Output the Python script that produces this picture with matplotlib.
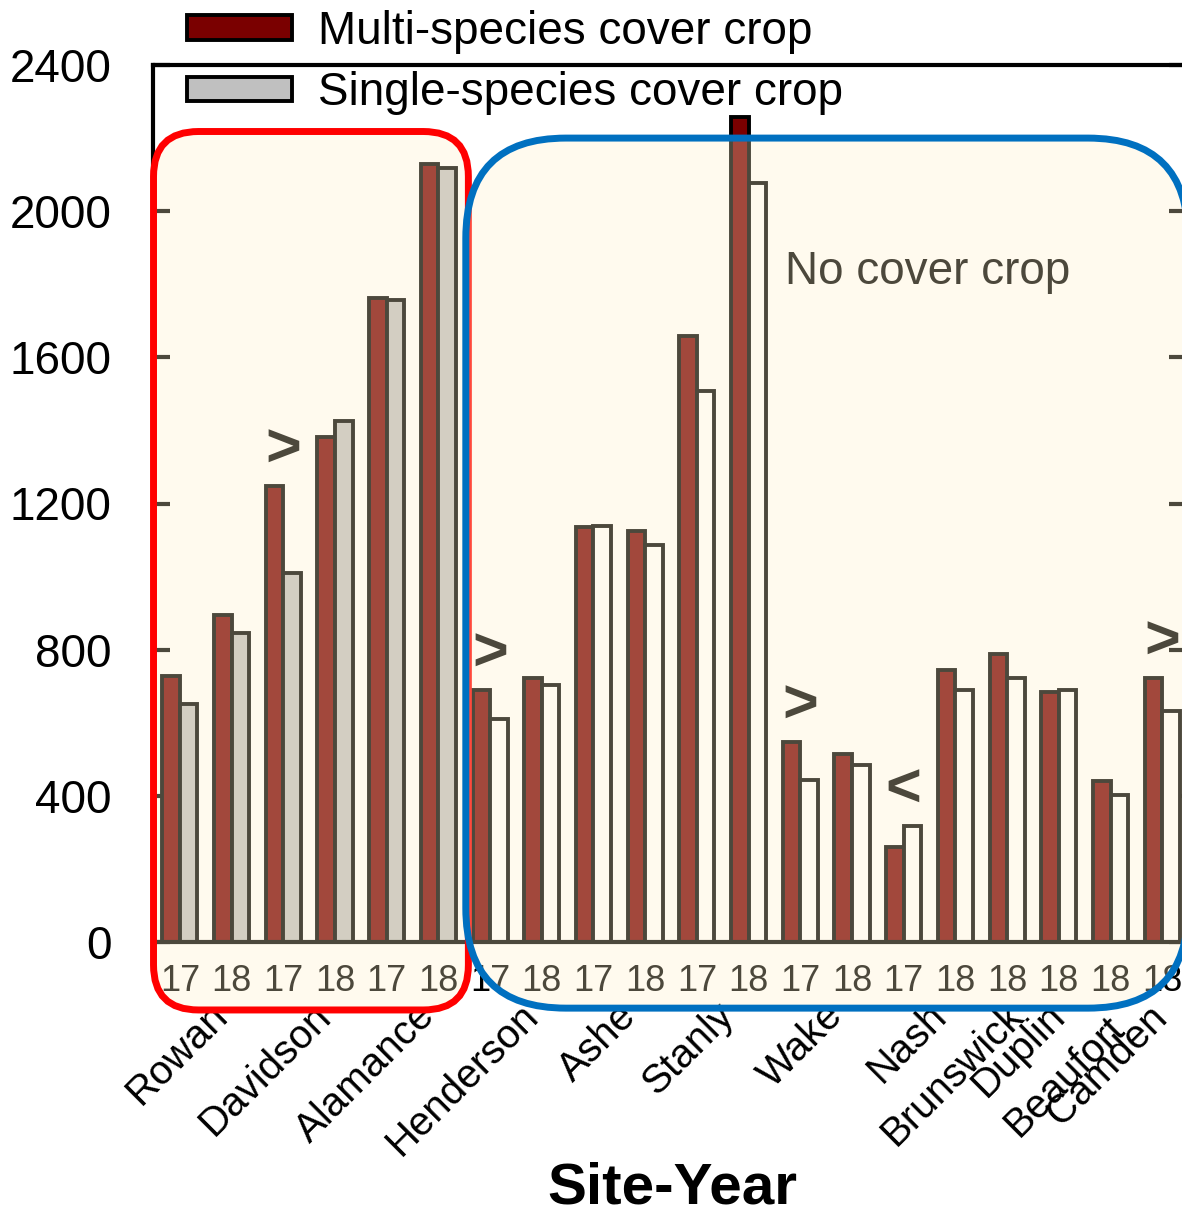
import matplotlib
matplotlib.use("Agg")
import matplotlib.pyplot as plt
import numpy as np
from matplotlib.patches import FancyBboxPatch, Patch
from matplotlib.transforms import IdentityTransform, blended_transform_factory

plt.rcParams["font.family"] = ["Liberation Sans", "DejaVu Sans"]

# Sites (in plotting order) and how many site-years each one has
sites = ["Rowan", "Davidson", "Alamance", "Henderson", "Ashe", "Stanly",
         "Wake", "Nash", "Brunswick", "Duplin", "Beaufort", "Camden"]
site_years = [2, 2, 2, 2, 2, 2, 2, 2, 1, 1, 1, 1]
years = ["17", "18", "17", "18", "17", "18", "17", "18", "17", "18",
         "17", "18", "17", "18", "17", "18", "18", "18", "18", "18"]

multi_species = [728, 895, 1248, 1382, 1763, 2129, 690, 723, 1136, 1125,
                 1659, 2258, 547, 515, 260, 744, 788, 684, 441, 723]
single_species = [651, 846, 1010, 1426, 1757, 2118, 610, 703, 1139, 1087,
                  1508, 2077, 443, 484, 317, 690, 723, 690, 402, 632]

# first site-years had a cover crop comparison, the rest had none
n_cover = 6

# significant differences (site-year index, sign)
sig_idx = [2, 6, 12, 14, 19]
sig_sign = [">", ">", ">", "<", ">"]

# layout of rotated site names (data x, axes y)
site_label_x = [0.55, 2.55, 4.55, 6.55, 8.45, 10.35, 12.45, 14.45, 15.95,
                16.75, 17.9, 18.72]
site_label_y = [-0.062] * 10 + [-0.076, -0.064]

W, H = 1182, 1216
fig = plt.figure(figsize=(W / 100, H / 100), dpi=100)
ax = fig.add_axes([153 / W, 1 - 942 / H, (1186 - 153) / W, 877 / H])

x = np.arange(len(years))
bw = 0.34
single_fill = ["#c0c0c0" if i < n_cover else "white" for i in x]
ax.bar(x - bw / 2, multi_species, bw, color="#7a0000", edgecolor="black",
       linewidth=2.8, zorder=2)
ax.bar(x + bw / 2, single_species, bw, color=single_fill, edgecolor="black",
       linewidth=2.8, zorder=2)

ax.set_xlim(-0.52, 19.46)
ax.set_ylim(0, 2400)
ax.set_yticks(range(0, 2401, 400))
ax.set_xticks(x, years)
ax.tick_params(axis="y", direction="in", length=12, width=3, right=True,
               labelsize=33, pad=30)
ax.tick_params(axis="x", length=0, labelsize=26, pad=16)
for sp in ax.spines.values():
    sp.set_linewidth(3)
    sp.set_color("black")

# significance signs above the bars
for i, s in zip(sig_idx, sig_sign):
    top = max(multi_species[i], single_species[i])
    ax.text(i, top + 95, s, ha="center", va="center", fontsize=44,
            weight="bold", zorder=3)

ax.text(11.7, 1834, "No cover crop", ha="left", va="center", fontsize=33)

lab_tr = blended_transform_factory(ax.transData, ax.transAxes)
for name, lx, ly in zip(sites, site_label_x, site_label_y):
    ax.text(lx, ly, name, transform=lab_tr, rotation=45, ha="right",
            va="top", rotation_mode="anchor", fontsize=29, clip_on=False)

fig.text(672 / W, 1 - 1188 / H, "Site-Year", ha="center", va="center",
         fontsize=42, weight="bold")

handles = [Patch(facecolor="#7a0000", edgecolor="black", linewidth=2.8),
           Patch(facecolor="#c0c0c0", edgecolor="black", linewidth=2.8)]
fig.legend(handles, ["Multi-species cover crop", "Single-species cover crop"],
           loc="upper left", bbox_to_anchor=(187 / W, 1 - 10 / H),
           frameon=False, fontsize=33, handlelength=2.29, handleheight=0.44,
           handletextpad=0.57, labelspacing=0.38, borderpad=0, borderaxespad=0)


# translucent rounded boxes grouping the site-years
def group_box(x0, x1, y0, y1, radius, color):
    (px0, py0) = ax.transData.transform((x0, y0))
    (px1, py1) = ax.transData.transform((x1, y1))
    box = FancyBboxPatch((px0, py0), px1 - px0, py1 - py0,
                         boxstyle=f"round,pad=0,rounding_size={radius}",
                         transform=IdentityTransform(),
                         facecolor=(1.0, 0.94, 0.78, 0.3), edgecolor=color,
                         linewidth=5, zorder=3)
    fig.add_artist(box)


group_box(-0.51, 5.58, -186, 2218, 45, "#ff0000")
group_box(5.53, 19.5, -181, 2200, 100, "#0070c0")

fig.savefig("out.png", dpi=100)
